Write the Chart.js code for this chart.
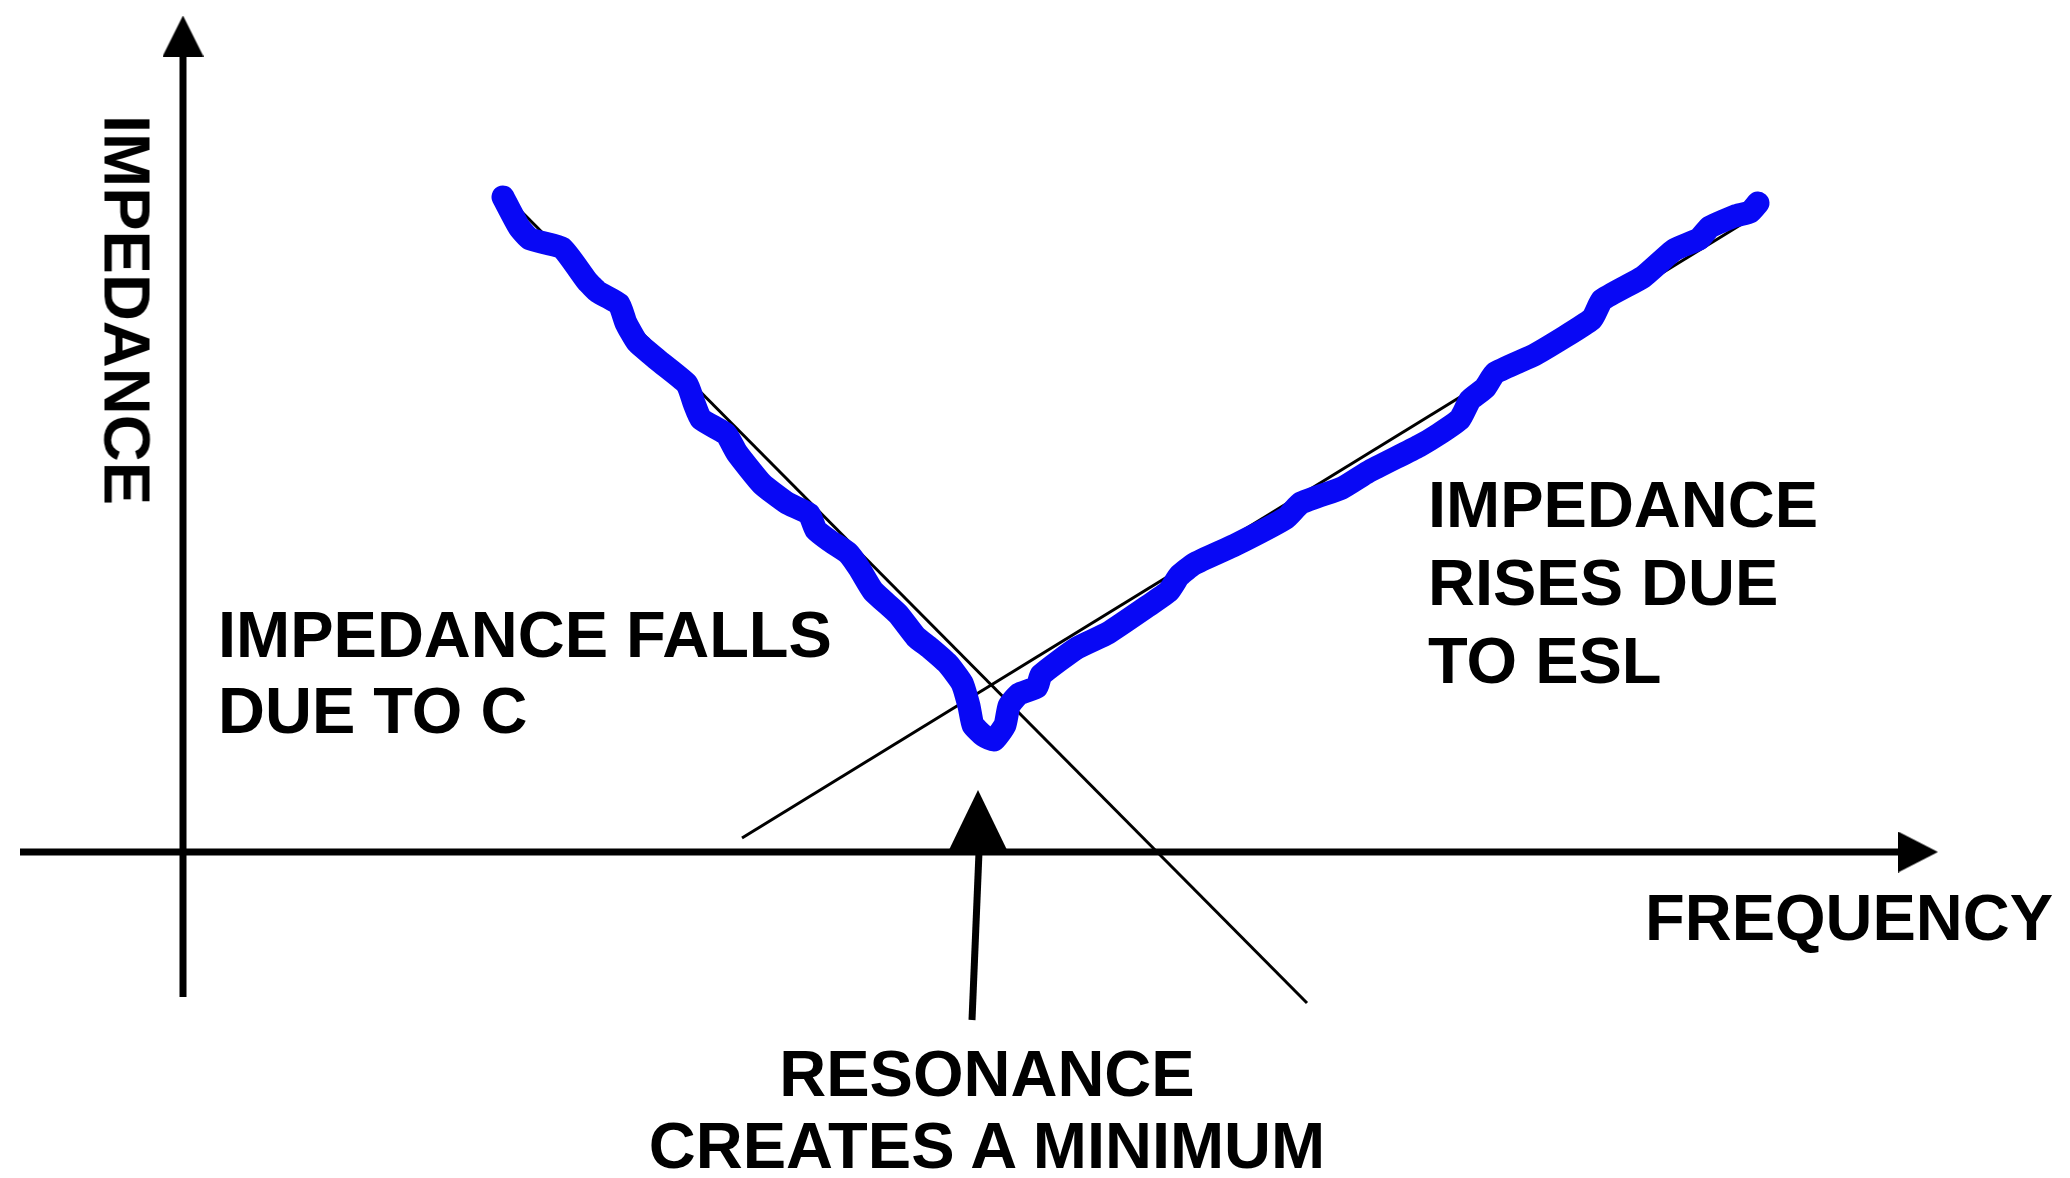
<!DOCTYPE html>
<html>
<head>
<meta charset="utf-8">
<script src="https://cdn.jsdelivr.net/npm/chart.js@4.4.1/dist/chart.umd.min.js"></script>
<style>
  body { margin: 0; background: #fff; }
  #wrap { position: relative; width: 2070px; height: 1178px; overflow: hidden; }
  #myChart { position: absolute; left: 0; top: 0; }
  .lbl {
    position: absolute;
    font-family: "Liberation Sans", Arial, sans-serif;
    font-weight: bold;
    font-size: 65px;
    color: #000;
    white-space: nowrap;
  }
</style>
</head>
<body>
<div id="wrap">
  <canvas id="myChart" width="2070" height="1178"></canvas>
  <div class="lbl" style="left:127px; top:310px; line-height:65px; transform:translate(-50%,-50%) rotate(90deg);">IMPEDANCE</div>
  <div class="lbl" style="left:218px; top:597px; line-height:76px;">IMPEDANCE FALLS<br>DUE TO C</div>
  <div class="lbl" style="left:1428px; top:466px; line-height:78px;">IMPEDANCE<br>RISES DUE<br>TO ESL</div>
  <div class="lbl" style="left:1645px; top:885px; line-height:65px;">FREQUENCY</div>
  <div class="lbl" style="left:537px; top:1038px; width:900px; text-align:center; line-height:72px;">RESONANCE<br>CREATES A MINIMUM</div>
</div>

<script>
// measured impedance curve (arbitrary units, origin where the axes cross)
var curveFreq = [32.0, 33.6, 34.7, 37.9, 40.4, 41.5, 43.6, 44.3, 45.4, 47.6, 50.4, 51.1, 51.8, 54.3, 55.4,
  57.9, 60.4, 62.6, 63.3, 64.7, 66.5, 67.6, 69.0, 71.5, 73.3, 74.7, 76.5, 77.9, 78.6, 79.0, 80.1, 81.1,
  82.2, 82.6, 83.6, 85.4, 85.8, 89.4, 92.5, 96.5, 98.6, 99.6, 101.1, 105.2, 110.3, 111.8, 115.9, 118.5,
  123.6, 125.6, 127.7, 128.7, 130.2, 131.2, 135.3, 140.9, 141.9, 146.0, 149.1, 151.6, 152.7, 155.2, 156.7, 157.5]
var curveImp = [65.5, 62.5, 61.3, 60.4, 57.1, 56.0, 54.8, 52.9, 51.0, 49.1, 46.8, 44.9, 43.3, 41.8, 39.9,
  36.8, 34.9, 33.8, 32.2, 31.1, 29.9, 28.4, 26.1, 23.8, 21.5, 20.4, 18.8, 16.9, 14.6, 12.7, 11.6, 11.2,
  12.7, 14.6, 15.8, 16.5, 17.7, 20.4, 21.9, 24.6, 26.1, 27.6, 28.8, 30.7, 33.4, 34.9, 36.4, 38.0,
  40.6, 41.8, 43.3, 45.2, 46.4, 47.9, 49.8, 53.3, 55.2, 57.5, 60.2, 61.3, 62.5, 63.6, 64.0, 64.9]

// straight asymptotes
var capFreq = [32.7, 112.4]
var capImp = [65.2, -15.1]
var eslFreq = [55.9, 157.2]
var eslImp = [1.4, 63.6]

// axes
var freqAxisX = [-16.3, 173.5]
var freqAxisY = [0, 0]
var impAxisX = [0, 0]
var impAxisY = [-14.5, 81.6]

// resonance marker and its pointer
var resFreq = [79.5]
var resImp = [3.1]
var pointerFreq = [79.6, 78.9]
var pointerImp = [0, -16.8]

function toPoints(xs, ys) {
  return xs.map(function (x, i) { return { x: x, y: ys[i] } })
}

// filled triangle used as a point style (points up)
function triangle(w, h) {
  var c = document.createElement('canvas')
  c.width = w
  c.height = h
  var g = c.getContext('2d')
  g.beginPath()
  g.moveTo(w / 2, 0)
  g.lineTo(w, h)
  g.lineTo(0, h)
  g.closePath()
  g.fillStyle = '#000'
  g.fill()
  return c
}

function lineSet(data, width, order) {
  return {
    data: data,
    showLine: true,
    borderColor: '#000',
    borderWidth: width,
    pointRadius: 0,
    order: order
  }
}

var ctx = document.getElementById('myChart').getContext('2d');
var chart = new Chart(ctx, {
  type: 'scatter',
  data: {
    datasets: [
      {
        data: toPoints(curveFreq, curveImp),
        showLine: true,
        borderColor: 'rgb(8, 8, 245)',
        borderWidth: 23,
        borderCapStyle: 'round',
        borderJoinStyle: 'round',
        tension: 0.15,
        pointRadius: 0,
        order: 0
      },
      {
        data: toPoints(resFreq, resImp),
        pointStyle: triangle(60, 62),
        pointRadius: 30,
        order: 1
      },
      {
        data: toPoints([freqAxisX[1]], [freqAxisY[1]]),
        pointStyle: triangle(41, 40),
        rotation: 90,
        pointRadius: 20,
        order: 1
      },
      {
        data: toPoints([impAxisX[1]], [impAxisY[1]]),
        pointStyle: triangle(41, 41),
        pointRadius: 20,
        order: 1
      },
      lineSet(toPoints(capFreq, capImp), 3, 2),
      lineSet(toPoints(eslFreq, eslImp), 3, 2),
      lineSet(toPoints(pointerFreq, pointerImp), 7, 3),
      lineSet(toPoints(freqAxisX, freqAxisY), 7, 3),
      lineSet(toPoints(impAxisX, impAxisY), 7, 3)
    ]
  },
  options: {
    responsive: false,
    animation: false,
    events: [],
    layout: { padding: 0, autoPadding: false },
    plugins: {
      legend: { display: false },
      tooltip: { enabled: false }
    },
    scales: {
      x: { type: 'linear', min: -18.3, max: 188.7, display: false },
      y: { type: 'linear', min: -32.6, max: 85.2, display: false }
    }
  }
});
</script>
</body>
</html>
